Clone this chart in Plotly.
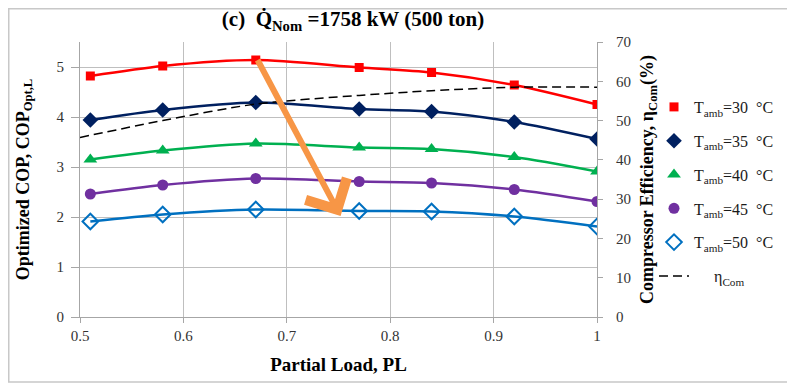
import plotly.graph_objects as go

# ---- data ----
partial_load = [0.51, 0.58, 0.67, 0.77, 0.84, 0.92, 1.0]
cop_t30 = [4.82, 5.02, 5.14, 4.99, 4.89, 4.64, 4.25]
cop_t35 = [3.94, 4.14, 4.29, 4.16, 4.11, 3.90, 3.56]
cop_t40 = [3.15, 3.33, 3.47, 3.39, 3.36, 3.20, 2.91]
cop_t45 = [2.46, 2.64, 2.77, 2.71, 2.68, 2.55, 2.31]
cop_t50 = [1.91, 2.05, 2.15, 2.12, 2.11, 2.01, 1.81]

eta_pl = [0.5, 0.58, 0.67, 0.77, 0.84, 0.92, 1.0]
eta_com = [45.7, 50.0, 54.2, 56.4, 57.6, 58.5, 58.5]

series_names = ["T<sub>amb</sub>=30  °C", "T<sub>amb</sub>=35  °C", "T<sub>amb</sub>=40  °C",
                "T<sub>amb</sub>=45  °C", "T<sub>amb</sub>=50  °C"]
eta_name = "     η<sub>Com</sub>"

x_tickvals = [0.5, 0.6, 0.7, 0.8, 0.9, 1.0]
x_ticktext = ["0.5", "0.6", "0.7", "0.8", "0.9", "1"]
y_tickvals = [0, 1, 2, 3, 4, 5]
y2_tickvals = [0, 10, 20, 30, 40, 50, 60, 70]

# arrow (tail -> head) in data units
arrow_tail = (0.671, 5.17)
arrow_head = (0.752, 2.02)

FONT = "Liberation Serif"

line_colors = ["#FF0000", "#002060", "#00B050", "#7030A0", "#0070C0"]
markers = [
    dict(color="#FF0000", symbol="square", size=9),
    dict(color="#002060", symbol="diamond", size=12),
    dict(color="#00B050", symbol="triangle-up", size=12),
    dict(color="#7030A0", symbol="circle", size=11),
    dict(color="#0070C0", symbol="diamond-open", size=12, line=dict(width=2, color="#0070C0")),
]
all_cop = [cop_t30, cop_t35, cop_t40, cop_t45, cop_t50]

# page body has an 8px margin: figure is drawn 8px right/down of the window origin
W, H = 787, 377
L, R, T, B = 72, 198, 34, 68
PW, PH = W - L - R, H - T - B

fig = go.Figure()
for i, vals in enumerate(all_cop):
    fig.add_trace(go.Scatter(
        x=partial_load, y=vals, mode="lines", showlegend=False, hoverinfo="skip",
        line=dict(color=line_colors[i], width=2.5, shape="spline", smoothing=0.8),
        yaxis="y",
    ))
for i, (vals, nm) in enumerate(zip(all_cop, series_names)):
    fig.add_trace(go.Scatter(
        x=partial_load, y=vals, name=nm, mode="markers",
        marker=markers[i], legendgroup=f"g{i}", yaxis="y",
    ))

fig.add_trace(go.Scatter(
    x=eta_pl, y=eta_com, name=eta_name, mode="lines",
    line=dict(color="#000000", width=1.5, dash="9px,5px", shape="spline", smoothing=0.8),
    legendgroup="g5", yaxis="y2",
))

fig.add_annotation(
    x=arrow_head[0], y=arrow_head[1], ax=arrow_tail[0], ay=arrow_tail[1],
    xref="x", yref="y", axref="x", ayref="y",
    showarrow=True, arrowhead=4, arrowsize=1.5, arrowwidth=6, arrowcolor="#F79646",
    text="",
)

# outer border of the picture
fig.add_shape(type="rect", xref="paper", yref="paper",
              x0=(0.75 - L) / PW, x1=(786 - L) / PW,
              y0=(T + PH - 374) / PH, y1=(T + PH - 0.75) / PH,
              line=dict(color="#C8C8C8", width=1.5), layer="below")

axis_line = "#A6A6A6"
grid = "#BFBFBF"
tickfont = dict(family=FONT, size=15, color="#333333")
fig.update_layout(
    width=W, height=H,
    margin=dict(l=L, r=R, t=T, b=B, autoexpand=False),
    paper_bgcolor="white", plot_bgcolor="white",
    font=dict(family=FONT, size=15, color="#1a1a1a"),
    title=dict(text="<b>(c)  Q̇<sub>Nom</sub> =1758 kW (500 ton)</b>",
               x=345 / W, xanchor="center", y=1 - 11 / H, yanchor="middle",
               font=dict(family=FONT, size=21, color="#000000")),
    xaxis=dict(range=[0.5, 1.0], tickvals=x_tickvals, ticktext=x_ticktext,
               showgrid=True, gridcolor=grid, gridwidth=1,
               showline=True, linecolor=axis_line, linewidth=1,
               ticks="outside", ticklen=5, tickcolor=axis_line,
               zeroline=False, automargin=False,
               title=dict(text="<b>Partial Load, PL</b>", font=dict(family=FONT, size=19, color="#000"), standoff=14),
               tickfont=tickfont),
    yaxis=dict(range=[0, 5.5], tickvals=y_tickvals,
               showgrid=True, gridcolor=grid, gridwidth=1,
               showline=True, linecolor=axis_line, linewidth=1,
               ticks="outside", ticklen=8, tickcolor=axis_line, ticklabelstandoff=4,
               zeroline=False, automargin=False,
               title=dict(text="<b>Optimized COP, COP<sub>Opt,L</sub></b>", font=dict(family=FONT, size=18, color="#000"), standoff=22),
               tickfont=tickfont),
    yaxis2=dict(range=[0, 70], tickvals=y2_tickvals, overlaying="y", side="right",
                showgrid=False, showline=True, linecolor=axis_line, linewidth=1,
                ticks="outside", ticklen=5, tickcolor=axis_line, ticklabelstandoff=10,
                zeroline=False, automargin=False,
                title=dict(text="<b>Compressor Efficiency, η<sub>Com</sub>(%)</b>", font=dict(family=FONT, size=18, color="#000"), standoff=10),
                tickfont=tickfont),
    legend=dict(x=(654 - 80) / PW, y=(317 - 90) / PH, xanchor="left", yanchor="top",
                font=dict(family=FONT, size=16, color="#1a1a1a"),
                bgcolor="rgba(0,0,0,0)", tracegroupgap=10, traceorder="grouped",
                itemwidth=30),
    showlegend=True,
)

fig.write_html("out.html")
